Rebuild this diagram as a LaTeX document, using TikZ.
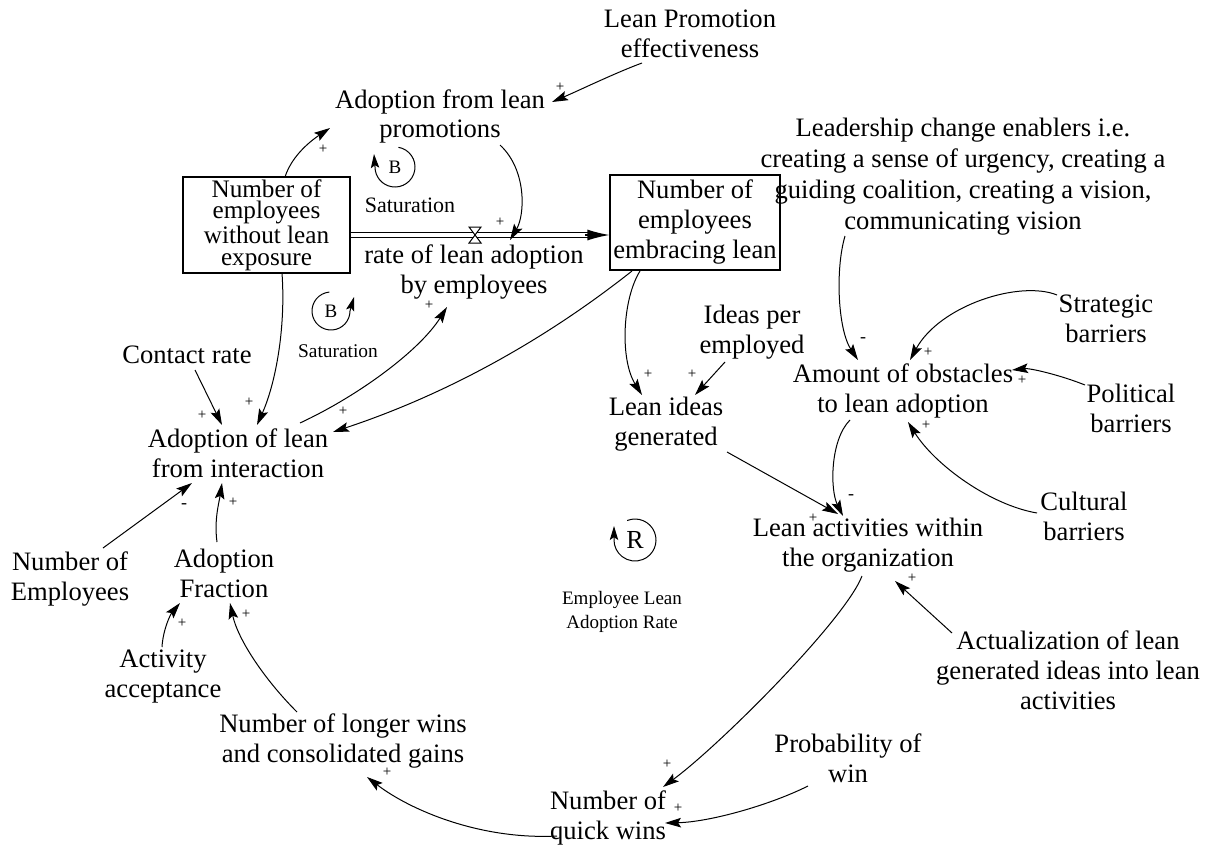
\documentclass[tikz,border=0pt]{standalone}
\usepackage{fontspec}
\setmainfont{Liberation Serif}
\usetikzlibrary{arrows.meta}

\begin{document}
\begin{tikzpicture}[x=0.5pt,y=-0.5pt,
  var/.style={align=center, inner sep=1pt, font=\fontsize{13.3}{15}\selectfont},
  stock/.style={draw, line width=0.6pt, align=center, inner sep=0pt},
  pol/.style={inner sep=0pt, font=\fontsize{7.5}{7.5}\selectfont},
  neg/.style={inner sep=0pt, font=\fontsize{9}{9}\selectfont},
  link/.style={line width=0.5pt, -{Stealth[length=8pt,width=4.8pt,inset=1.5pt]}},
  loopline/.style={line width=0.5pt, -{Stealth[length=7pt,width=4.2pt,inset=1.4pt]}},
  looptag/.style={inner sep=0pt, font=\fontsize{9.5}{9.5}\selectfont},
  loopname/.style={align=center, inner sep=0pt}
]
\useasboundingbox (0,0) rectangle (1225,846);

% ---------- variables ----------
\node[var] (lpe) at (690,34) {Lean Promotion\\effectiveness};
\node[var, font=\fontsize{13.3}{14.5}\selectfont] (afp) at (440,116) {Adoption from lean\\promotions};
\node[stock, minimum width=83.5pt, minimum height=48pt,
      font=\fontsize{12.6}{10.7}\selectfont] (nwo) at (266.5,225)
      {Number of\\employees\\without lean\\exposure};
\node[stock, minimum width=85pt, minimum height=47.5pt,
      font=\fontsize{13.3}{15}\selectfont] (nel) at (695,222.5)
      {Number of\\employees\\embracing lean};
\node[var] (rate) at (474,272) {rate of lean adoption\\by employees};
\node[var, font=\fontsize{13.3}{15.5}\selectfont] (lead) at (963,177) {Leadership change enablers i.e.\\creating a sense of urgency, creating a\\guiding coalition, creating a vision,\\communicating vision};
\node[var] (cr) at (187,355) {Contact rate};
\node[var] (adi) at (238,453) {Adoption of lean\\from interaction};
\node[var] (ne) at (70,579) {Number of\\Employees};
\node[var] (af) at (224,573) {Adoption\\Fraction};
\node[var] (aa) at (163,677) {Activity\\acceptance};
\node[var] (nlw) at (343,741) {Number of longer wins\\and consolidated gains};
\node[var] (nqw) at (608,818) {Number of\\quick wins};
\node[var] (pw) at (848,758) {Probability of\\win};
\node[var] (ipe) at (752,332) {Ideas per\\employed};
\node[var] (lig) at (666,424) {Lean ideas\\generated};
\node[var] (aol) at (903,391) {Amount of obstacles\\to lean adoption};
\node[var] (lac) at (868,545) {Lean activities within\\the organization};
\node[var] (sb) at (1106,319) {Strategic\\barriers};
\node[var] (pb) at (1131,408) {Political\\barriers};
\node[var] (cb) at (1084,516) {Cultural\\barriers};
\node[var] (act) at (1068,670) {Actualization of lean\\generated ideas into lean\\activities};

% ---------- flow pipe with valve ----------
\coordinate (valve) at (475,235);
\coordinate (pout) at (nwo.east |- valve);
\coordinate (pin) at (nel.west |- valve);
\draw[line width=0.5pt, double distance=1.8pt] (pout) -- ([shift={(-18,0)}]pin);
\draw[line width=0.6pt, -{Latex[length=11pt,width=5.5pt]}] ([shift={(-24,0)}]pin) -- (pin);
\draw[fill=white, line width=0.5pt] ([shift={(-6,-8)}]valve) -- ([shift={(6,-8)}]valve)
  -- ([shift={(-6,8)}]valve) -- ([shift={(6,8)}]valve) -- cycle;

% ---------- causal links ----------
\draw[link] ([shift={(-48,29)}]lpe.center) .. controls +(-27,10) and +(28,-12) .. ([shift={(112,-14)}]afp.center);
\draw[link] ([shift={(18.5,-48)}]nwo.center) .. controls +(7,-22) and +(-18,12) .. ([shift={(-110,12)}]afp.center);
\draw[link] ([shift={(60,29)}]afp.center) .. controls +(27,25) and +(15,-25) .. ([shift={(35,5)}]valve);
\draw[link] ([shift={(15.5,48)}]nwo.center) .. controls +(4,57) and +(18,-40) .. ([shift={(19,-28)}]adi.center);
\draw[link] ([shift={(8,15)}]cr.center) -- ([shift={(-16,-28)}]adi.center);
\draw[link] ([shift={(62,-30)}]adi.center) .. controls +(60,-28) and +(-27,43) .. ([shift={(-27,35)}]rate.center);
\draw[link] ([shift={(-63,48.5)}]nel.center) .. controls +(-91,72) and +(109,-36) .. ([shift={(95,-21)}]adi.center);
\draw[link] ([shift={(-55,48.5)}]nel.center) .. controls +(-18,29) and +(-22,-35) .. ([shift={(-24,-29)}]lig.center);
\draw[link] ([shift={(-27,30)}]ipe.center) -- ([shift={(29,-29)}]lig.center);
\draw[link] ([shift={(61,28)}]lig.center) -- ([shift={(-30,-31)}]lac.center);
\draw[link] ([shift={(-53,29)}]aol.center) .. controls +(-20,20) and +(-13,-26) .. ([shift={(-25,-29)}]lac.center);
\draw[link] ([shift={(-118,59)}]lead.center) .. controls +(-10,34) and +(-20,-30) .. ([shift={(-45,-31)}]aol.center);
\draw[link] ([shift={(-49,-24)}]sb.center) .. controls +(-37,-15) and +(30,-55) .. ([shift={(7,-31)}]aol.center);
\draw[link] ([shift={(-46,-23)}]pb.center) .. controls +(-25,-10) and +(18,-2) .. ([shift={(109,-21)}]aol.center);
\draw[link] ([shift={(-47,-3)}]cb.center) .. controls +(-47,-8) and +(27,43) .. ([shift={(5,31)}]aol.center);
\draw[link] ([shift={(-116,-37)}]act.center) -- ([shift={(27,36)}]lac.center);
\draw[link] ([shift={(-6,31)}]lac.center) .. controls +(-17,44) and +(57,-42) .. ([shift={(55,-31)}]nqw.center);
\draw[link] ([shift={(-40,28)}]pw.center) .. controls +(-38,19) and +(45,-1) .. ([shift={(57,5)}]nqw.center);
\draw[link] ([shift={(-51,18)}]nqw.center) .. controls +(-77,4) and +(43,33) .. ([shift={(24,36)}]nlw.center);
\draw[link] ([shift={(-46,-29)}]nlw.center) .. controls +(-32,-32) and +(8,37) .. ([shift={(6,30)}]af.center);
\draw[link] ([shift={(-1,-30)}]aa.center) .. controls +(1,-17) and +(-10,12) .. ([shift={(-44,30)}]af.center);
\draw[link] ([shift={(-7,-31)}]af.center) .. controls +(-3,-22) and +(-3,20) .. ([shift={(-16,30)}]adi.center);
\draw[link] ([shift={(33,-31)}]ne.center) -- ([shift={(-46,30)}]adi.center);

% ---------- link polarities ----------
\node[pol] (p1) at (560,87) {+};
\node[pol] (p2) at (323,149) {+};
\node[pol] (p3) at (500,222) {+};
\node[pol] (p4) at (249,402) {+};
\node[pol] (p5) at (202,415) {+};
\node[pol] (p6) at (429,305) {+};
\node[pol] (p7) at (343,411) {+};
\node[pol] (p8) at (648,374) {+};
\node[pol] (p9) at (692,374) {+};
\node[pol] (p10) at (813,518) {+};
\node[neg] (p11) at (851,497) {-};
\node[neg] (p12) at (863,340) {-};
\node[pol] (p13) at (928,352) {+};
\node[pol] (p14) at (1022,380) {+};
\node[pol] (p15) at (926,425) {+};
\node[pol] (p16) at (912,578) {+};
\node[pol] (p17) at (667,764) {+};
\node[pol] (p18) at (678,808) {+};
\node[pol] (p19) at (387,772) {+};
\node[pol] (p20) at (246,614) {+};
\node[pol] (p21) at (182,623) {+};
\node[pol] (p22) at (233,502) {+};
\node[neg] (p23) at (184,506) {-};

% ---------- feedback loop markers ----------
\coordinate (b1) at (395,167);
\draw[loopline] ([shift={(-80:20)}]b1) arc[start angle=-80, end angle=180, radius=20] -- ++(-1,-13);
\node[looptag] (b1t) at (b1) {B};
\node[loopname, font=\fontsize{11}{11}\selectfont] (sat1) at (410,205) {Saturation};

\coordinate (b2) at (331,311);
\draw[loopline] ([shift={(-95:19)}]b2) arc[start angle=-95, end angle=-360, radius=19] -- ++(4,-14);
\node[looptag] (b2t) at (b2) {B};
\node[loopname, font=\fontsize{9.7}{9.7}\selectfont] (sat2) at (338,351) {Saturation};

\coordinate (r1) at (635,540);
\draw[loopline] ([shift={(-112:21)}]r1) arc[start angle=-112, end angle=180, radius=21] -- ++(0,-14);
\node[looptag, font=\fontsize{13}{13}\selectfont] (r1t) at (r1) {R};
\node[loopname, font=\fontsize{9.5}{12}\selectfont] (ela) at (622,612) {Employee Lean\\Adoption Rate};

\end{tikzpicture}
\end{document}
